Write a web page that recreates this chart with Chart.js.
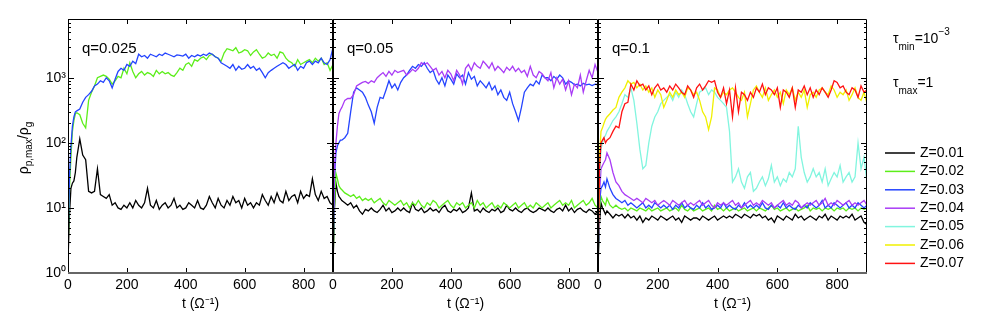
<!DOCTYPE html>
<html>
<head>
<meta charset="utf-8">
<script src="https://cdn.jsdelivr.net/npm/chart.js@4.4.0/dist/chart.umd.min.js"></script>
<style>
  html, body { margin: 0; padding: 0; background: #fff; }
  #wrap { position: relative; width: 981px; height: 327px; overflow: hidden; }
  #wrap canvas { position: absolute; top: 0; }
</style>
</head>
<body>
<div id="wrap">
  <canvas id="c1" width="333" height="327" style="left:0px"></canvas>
  <canvas id="c2" width="280" height="327" style="left:318px"></canvas>
  <canvas id="c3" width="398" height="327" style="left:583px"></canvas>
</div>
<script>
const FONT = "'Liberation Sans', Arial, Helvetica, sans-serif";

// time samples (Omega^-1), shared by every run
const times = [0, 5, 10, 15, 20, 25,
  30, 40, 50, 60, 70, 80, 90, 100, 110, 120,
  130, 140, 150, 160, 170, 180, 190, 200, 210, 220,
  230, 240, 250, 260, 270, 280, 290, 300, 310, 320,
  330, 340, 350, 360, 370, 380, 390, 400, 410, 420,
  430, 440, 450, 460, 470, 480, 490, 500, 510, 520,
  530, 540, 550, 560, 570, 580, 590, 600, 610, 620,
  630, 640, 650, 660, 670, 680, 690, 700, 710, 720,
  730, 740, 750, 760, 770, 780, 790, 800, 810, 820,
  830, 840, 850, 860, 870, 880, 890, 900];

const xTickValues = [0, 200, 400, 600, 800];
const yLabelValues = [1, 10, 100, 1000];
const yTickValues = [1, 2, 3, 4, 5, 6, 7, 8, 9,
  10, 20, 30, 40, 50, 60, 70, 80, 90,
  100, 200, 300, 400, 500, 600, 700, 800, 900,
  1000, 2000, 3000, 4000, 5000, 6000, 7000];

const zLabels = ["Z=0.01", "Z=0.02", "Z=0.03", "Z=0.04", "Z=0.05", "Z=0.06", "Z=0.07"];

// ---- q = 0.025 ----
const q025_Z01 = [1.5, 8, 20, 24, 26, 35,
  60, 115, 65, 55, 18, 17, 18, 40, 16, 15,
  14, 16, 11, 12, 10, 9.5, 11, 10, 12, 10,
  13, 11, 10, 12, 20, 11, 10, 13, 9.5, 11,
  12, 10, 11, 14, 10, 11, 9.5, 10, 12, 11,
  10, 13, 10, 9.5, 11, 15, 12, 10, 14, 11,
  10, 13, 11, 15, 12, 13, 10, 14, 11, 12,
  10, 12, 11, 16, 13, 11, 15, 12, 17, 13,
  12, 18, 13, 15, 16, 12, 18, 14, 16, 15,
  28, 16, 13, 18, 14, 15, 12, 11];
const q025_Z02 = [2, 20, 60, 150, 220, 280,
  290, 270, 200, 170, 450, 600, 750, 1000, 1050, 1100,
  1050, 950, 800, 900, 1050, 1000, 1400, 1150, 1700, 1250,
  1000, 1150, 1250, 1100, 1200, 1150, 1050, 1300, 1150, 1250,
  1150, 1200, 1100, 1050, 1200, 1400, 1300, 1600, 1700, 1500,
  1900, 1800, 2000, 2100, 1900, 2200, 2300, 2100, 2000, 1800,
  2400, 2800, 2700, 2600, 2900, 2400, 2500, 2700, 2600, 2200,
  2500, 2700, 2300, 2000, 2100, 2400, 2200, 2300, 2000, 2500,
  2400, 2000, 1800, 1700, 1500, 1900, 1600, 1700, 1800, 1900,
  1700, 2000, 1800, 2000, 1600, 1700, 1300, 1600];
const q025_Z03 = [2.5, 30, 90, 180, 250, 300,
  310, 330, 420, 500, 550, 620, 750, 800, 900, 850,
  1000, 900, 700, 950, 1250, 1400, 1300, 1600, 1500, 1800,
  1650, 2300, 2100, 2200, 2000, 2300, 2200, 2100, 2300, 2200,
  2400, 2300, 2200, 2100, 2250, 2200, 2150, 2300, 2000, 2200,
  2100, 2250, 2150, 2300, 2200, 2400, 2300, 2100, 2000, 1700,
  1600, 1500, 1400, 1600, 1300, 1500, 1350, 1400, 1600, 1400,
  1500, 1300, 1400, 1200, 1000, 1200, 1300, 1400, 1500, 1600,
  1700, 1600, 1400, 1500, 1600, 1300, 1500, 1400, 1700, 1800,
  1600, 1800, 1700, 2000, 1700, 1600, 1900, 2900];

// ---- q = 0.05 ----
const q05_Z01 = [1.2, 10, 24, 18, 15, 14,
  13, 12, 11, 12, 10, 11, 9, 8, 9.5, 9,
  10, 9, 8.5, 9.5, 11, 9, 10, 8.5, 9, 10,
  9, 10, 9, 8.5, 12, 9.5, 9, 10, 8.5, 9,
  10, 9, 9.5, 8.5, 10, 11, 9, 8.5, 9.5, 9,
  10, 8.5, 9, 10, 17, 9, 9.5, 8.5, 10, 9,
  8.5, 9.5, 9, 10, 8.5, 9, 11, 9.5, 9, 10,
  9, 8.5, 9.5, 10, 9, 8.5, 9, 10, 9.5, 9,
  10, 9, 8.5, 9.5, 10, 9, 11, 9, 10, 8.5,
  9.5, 10, 9, 8.5, 9.5, 9, 8, 9];
const q05_Z02 = [1.5, 10, 34, 28, 22, 20,
  19, 17, 16, 15, 16, 14, 15, 13, 14, 13,
  14, 12, 13, 14, 12, 11, 13, 12, 11, 12,
  13, 11, 12, 10, 12, 11, 13, 11, 10, 12,
  11, 13, 12, 10, 11, 12, 13, 11, 10, 12,
  11, 12, 10, 11, 12, 10, 13, 11, 12, 10,
  11, 12, 10, 11, 10, 12, 11, 10, 11, 12,
  10, 11, 12, 10, 11, 10, 12, 11, 10, 11,
  12, 10, 11, 12, 13, 11, 12, 11, 13, 10,
  11, 12, 13, 11, 12, 14, 11, 10];
const q05_Z03 = [1.5, 30, 70, 90, 100, 110,
  110, 120, 140, 300, 600, 700, 650, 600, 500, 380,
  300, 200, 350, 500, 480, 650, 900, 700, 800, 650,
  850, 1000, 1100, 1300, 1500, 1400, 1600, 1500, 1700, 1400,
  1200, 1300, 950, 800, 1000, 750, 1100, 950, 800, 1150,
  1000, 1100, 800, 1200, 950, 1050, 750, 900, 800, 700,
  850, 650, 750, 550, 650, 500, 450, 600, 400, 300,
  220, 350, 600, 700, 800, 750, 900, 800, 1100, 1000,
  1000, 900, 1050, 950, 1100, 1000, 800, 900, 850, 780,
  800, 750, 820, 780, 800, 760, 800, 780];
const q05_Z04 = [1.5, 40, 100, 180, 280, 320,
  350, 450, 480, 480, 550, 750, 800, 850, 880, 820,
  900, 850, 1000, 1100, 1200, 1050, 1250, 1100, 1300, 1200,
  1250, 1300, 1100, 1200, 1350, 1250, 1400, 1700, 1600, 1700,
  1500, 1300, 1400, 1100, 1250, 1000, 1300, 1150, 900, 1300,
  1100, 800, 1400, 1600, 1300, 1700, 1500, 1400, 1800, 1600,
  1400, 1700, 1300, 1500, 1350, 1200, 1450, 1300, 1500, 1250,
  1400, 1200, 1300, 1050, 1500, 1100, 1000, 1250, 1150, 1000,
  900, 1200, 700, 1000, 800, 950, 650, 900, 550, 800,
  700, 1100, 600, 900, 1300, 1000, 1600, 1200];

// ---- q = 0.1 ----
const q1_Z01 = [1.2, 6, 12, 10, 9, 8,
  9, 8, 7, 8, 7.5, 8, 7, 8, 7, 7.5,
  6.5, 7.5, 6, 7, 6.5, 7.5, 7, 6.5, 7.5, 7,
  6.5, 7, 7.5, 6.5, 7, 6, 7.5, 7, 6.5, 7,
  7, 6.5, 7.5, 7, 6.5, 7, 7.5, 6.5, 7, 7.5,
  7, 7.5, 7, 8, 7.5, 7, 8, 7.5, 7, 8,
  7.5, 8, 7, 7.5, 6.5, 7, 6, 7.5, 7, 6.5,
  7.5, 7, 6.5, 8, 7, 7.5, 6.5, 7, 7.5, 7,
  6.5, 7.5, 7, 8, 6.5, 7.5, 7, 6.5, 7.5, 7,
  7.5, 7, 8, 6.5, 7, 7.5, 6, 5.5];
const q1_Z02 = [1.5, 10, 15, 13, 12, 11,
  14, 11, 10, 11, 10, 9.5, 10, 9, 10, 9.5,
  9, 10, 9.5, 9, 10, 9, 9.5, 10, 9, 9.5,
  10, 9, 9.5, 10, 9, 11, 9.5, 9, 10, 9,
  9.5, 10, 9, 9.5, 10, 9, 11, 9.5, 10, 9,
  10, 9, 9.5, 10, 9, 9.5, 10, 9, 9.5, 10,
  9, 10, 9.5, 9, 10, 11, 9.5, 10, 9, 9.5,
  10, 9, 9.5, 10, 9, 9.5, 10, 11, 9, 10,
  9.5, 10, 9, 10, 9.5, 10, 9, 10, 9.5, 10,
  9, 10, 9.5, 10, 9, 10, 9.5, 10];
const q1_Z03 = [1.5, 12, 20, 22, 25, 21,
  28, 20, 16, 14, 13, 12, 13, 11, 12, 11,
  10, 11, 12, 10, 11, 10, 12, 11, 10, 11,
  10, 11, 9.5, 11, 10, 12, 10, 11, 10, 9.5,
  11, 10, 12, 10, 11, 9.5, 10, 11, 10, 12,
  10, 11, 10, 9.5, 11, 10, 12, 10, 11, 10,
  11, 10, 12, 10, 9.5, 11, 10, 11, 10, 12,
  10, 11, 10, 9.5, 11, 10, 11, 10, 12, 11,
  10, 11, 13, 10, 11, 10, 12, 11, 10, 11,
  12, 10, 11, 10, 12, 11, 10, 11];
const q1_Z04 = [1.5, 15, 40, 45, 50, 55,
  70, 55, 35, 25, 22, 18, 16, 15, 14, 13,
  14, 13, 12, 14, 13, 12, 13, 11, 12, 13,
  12, 11, 13, 12, 11, 12, 13, 11, 12, 11,
  12, 13, 11, 12, 13, 11, 10, 12, 11, 12,
  11, 12, 13, 11, 12, 10, 11, 12, 13, 11,
  12, 11, 13, 12, 11, 12, 10, 11, 12, 13,
  11, 12, 11, 13, 12, 10, 11, 12, 11, 12,
  13, 11, 12, 14, 11, 12, 11, 13, 12, 11,
  12, 13, 11, 12, 11, 12, 13, 11];
const q1_Z05 = [1.5, 30, 80, 100, 120, 130,
  150, 180, 220, 250, 300, 400, 550, 500, 700, 450,
  200, 80, 40, 45, 100, 180, 250, 300, 400, 450,
  500, 550, 450, 600, 500, 650, 550, 400, 300, 250,
  400, 600, 650, 700, 550, 650, 600, 500, 450, 400,
  350, 150, 25, 30, 40, 25, 20, 30, 35, 18,
  20, 25, 30, 22, 28, 45, 25, 30, 22, 28,
  25, 35, 30, 40, 180, 60, 35, 25, 30, 40,
  30, 35, 25, 40, 22, 28, 35, 30, 45, 25,
  30, 35, 25, 30, 100, 40, 60, 25];
const q1_Z06 = [1.5, 60, 150, 170, 200, 230,
  250, 280, 320, 350, 500, 600, 700, 900, 800, 850,
  700, 800, 650, 750, 600, 700, 500, 650, 550, 350,
  450, 600, 500, 650, 550, 600, 500, 700, 650, 550,
  600, 450, 300, 250, 160, 250, 700, 650, 500, 600,
  550, 650, 700, 600, 500, 450, 600, 250, 400, 650,
  750, 600, 500, 700, 450, 550, 650, 500, 600, 400,
  650, 550, 700, 450, 600, 500, 650, 350, 550, 600,
  500, 650, 700, 600, 550, 750, 650, 500, 600, 550,
  650, 450, 550, 700, 500, 450, 600, 400];
const q1_Z07 = [1.5, 40, 100, 110, 120, 100,
  110, 120, 150, 180, 170, 300, 400, 420, 800, 650,
  900, 750, 800, 650, 750, 550, 700, 800, 650, 700,
  600, 750, 650, 800, 700, 600, 550, 750, 650, 500,
  700, 800, 650, 750, 900, 850, 900, 600, 500, 700,
  400, 650, 250, 700, 300, 600, 550, 450, 600, 500,
  700, 600, 800, 550, 700, 650, 550, 700, 350, 650,
  600, 500, 700, 350, 650, 600, 750, 550, 700, 500,
  650, 550, 700, 600, 500, 650, 900, 850, 700, 750,
  600, 550, 700, 650, 500, 750, 600, 650];

const zColors = ["#000000", "#5cee1a", "#2444ff", "#a93cf6", "#82f5df", "#f0f000", "#ff1212"];

const panels = [
  { id: "c1", label: "q=0.025", z: [0, 1, 2], series: [q025_Z01, q025_Z02, q025_Z03], padLeft: 0, padRight: 0, showY: true },
  { id: "c2", label: "q=0.05", z: [0, 1, 2, 3], series: [q05_Z01, q05_Z02, q05_Z03, q05_Z04], padLeft: 15, padRight: 0, showY: false },
  { id: "c3", label: "q=0.1", z: [0, 1, 2, 3, 4, 5, 6],
    series: [q1_Z01, q1_Z02, q1_Z03, q1_Z04, q1_Z05, q1_Z06, q1_Z07], padLeft: 15, padRight: 114, showY: false, legend: true }
];

const sup = ["\u2070", "\u00b9", "\u00b2", "\u00b3"];
const isDecade = v => Math.abs(Math.log10(v) - Math.round(Math.log10(v))) < 1e-9;

// draws text made of runs: [text, size, dy]
function drawRich(ctx, parts, x, y, align) {
  let w = 0;
  parts.forEach(p => { ctx.font = p[1] + "px " + FONT; w += ctx.measureText(p[0]).width; });
  let cx = align === "center" ? x - w / 2 : x;
  ctx.textAlign = "left";
  ctx.textBaseline = "alphabetic";
  parts.forEach(p => {
    ctx.font = p[1] + "px " + FONT;
    ctx.fillText(p[0], cx, y + p[2]);
    cx += ctx.measureText(p[0]).width;
  });
}

const frameTicks = {
  id: "frameTicks",
  afterDatasetsDraw(chart) {
    const { ctx, chartArea: a, scales: { x, y } } = chart;
    ctx.save();
    ctx.strokeStyle = "#000";
    ctx.lineWidth = 1;
    ctx.beginPath();
    yTickValues.forEach(v => {
      const py = Math.round(y.getPixelForValue(v)) + 0.5;
      const len = isDecade(v) ? 6 : 3;
      ctx.moveTo(a.left, py); ctx.lineTo(a.left + len, py);
      ctx.moveTo(a.right, py); ctx.lineTo(a.right - len, py);
    });
    xTickValues.forEach(v => {
      const px = Math.round(x.getPixelForValue(v)) + 0.5;
      ctx.moveTo(px, a.top); ctx.lineTo(px, a.top + 5);
      ctx.moveTo(px, a.bottom); ctx.lineTo(px, a.bottom - 5);
    });
    ctx.stroke();
    ctx.beginPath();
    ctx.moveTo(a.left + 0.5, a.bottom); ctx.lineTo(a.left + 0.5, a.top + 0.5);
    ctx.lineTo(a.right - 0.5, a.top + 0.5); ctx.lineTo(a.right - 0.5, a.bottom);
    ctx.stroke();
    ctx.strokeStyle = "#666";
    ctx.lineWidth = 2;
    ctx.beginPath();
    ctx.moveTo(a.left, a.bottom); ctx.lineTo(a.right, a.bottom);
    ctx.stroke();
    ctx.fillStyle = "#000";
    drawRich(ctx, [[chart.options.panelLabel, 15, 0]], a.left + 14, 53, "left");
    ctx.restore();
  }
};

const yTitle = {
  id: "yTitle",
  afterDraw(chart) {
    if (!chart.options.showYTitle) return;
    const ctx = chart.ctx;
    ctx.save();
    ctx.fillStyle = "#000";
    ctx.translate(28, 148);
    ctx.rotate(-Math.PI / 2);
    drawRich(ctx, [["\u03c1", 14, 0], ["p,max", 10, 3.5], ["/\u03c1", 14, 0], ["g", 10, 3.5]], 0, 0, "center");
    ctx.restore();
  }
};

const sideLegend = {
  id: "sideLegend",
  afterDraw(chart) {
    if (!chart.options.sideLegend) return;
    const ctx = chart.ctx;
    const ox = 583;
    ctx.save();
    ctx.fillStyle = "#000";
    drawRich(ctx, [["\u03c4", 14, 0], ["min", 10, 7], ["=10", 14, 0], ["\u22123", 10, -8]], 893 - ox, 43, "left");
    drawRich(ctx, [["\u03c4", 14, 0], ["max", 10, 7], ["=1", 14, 0]], 893 - ox, 87, "left");
    chart.data.datasets.forEach((ds, i) => {
      const yy = 153 + i * 18.4;
      ctx.strokeStyle = ds.borderColor;
      ctx.lineWidth = 1.5;
      ctx.beginPath();
      ctx.moveTo(885 - ox, yy); ctx.lineTo(915 - ox, yy);
      ctx.stroke();
      ctx.font = "14px " + FONT;
      ctx.textAlign = "left";
      ctx.textBaseline = "middle";
      ctx.fillText(ds.label, 920 - ox, yy);
    });
    ctx.restore();
  }
};

panels.forEach(p => {
  const datasets = p.series.map((vals, k) => ({
    label: zLabels[p.z[k]],
    data: times.map((t, i) => ({ x: t, y: vals[i] })),
    borderColor: zColors[p.z[k]],
    borderWidth: 1.3,
    pointRadius: 0,
    tension: 0,
    fill: false,
    order: -p.z[k]
  }));
  new Chart(document.getElementById(p.id), {
    type: "line",
    data: { datasets },
    plugins: [frameTicks, yTitle, sideLegend],
    options: {
      responsive: false,
      animation: false,
      devicePixelRatio: 1,
      panelLabel: p.label,
      showYTitle: p.showY,
      sideLegend: !!p.legend,
      layout: { padding: { left: p.padLeft, right: p.padRight, top: 19, bottom: 0 } },
      plugins: { legend: { display: false }, tooltip: { enabled: false } },
      scales: {
        x: {
          type: "linear", min: 0, max: 900,
          afterBuildTicks: s => { s.ticks = xTickValues.map(v => ({ value: v })); },
          afterFit: s => { s.height = 54; },
          grid: { display: false, drawTicks: false },
          border: { display: false },
          ticks: { autoSkip: false, maxRotation: 0, padding: 4, color: "#000",
                   font: { family: FONT, size: 14 }, callback: v => String(v) },
          title: { display: true, text: "t (\u03a9\u207b\u00b9)", color: "#000",
                   font: { family: FONT, size: 14 }, padding: { top: 0, bottom: 14 } }
        },
        y: {
          type: "logarithmic", min: 1, max: 8000, display: p.showY,
          afterBuildTicks: s => { s.ticks = yLabelValues.map(v => ({ value: v, major: true })); },
          afterFit: s => { s.width = p.showY ? 68 : 0; },
          grid: { display: false, drawTicks: false },
          border: { display: false },
          ticks: { autoSkip: false, padding: 2, color: "#000",
                   font: { family: FONT, size: 14 },
                   callback: v => "10" + sup[Math.round(Math.log10(v))] }
        }
      }
    }
  });
});
</script>
</body>
</html>
